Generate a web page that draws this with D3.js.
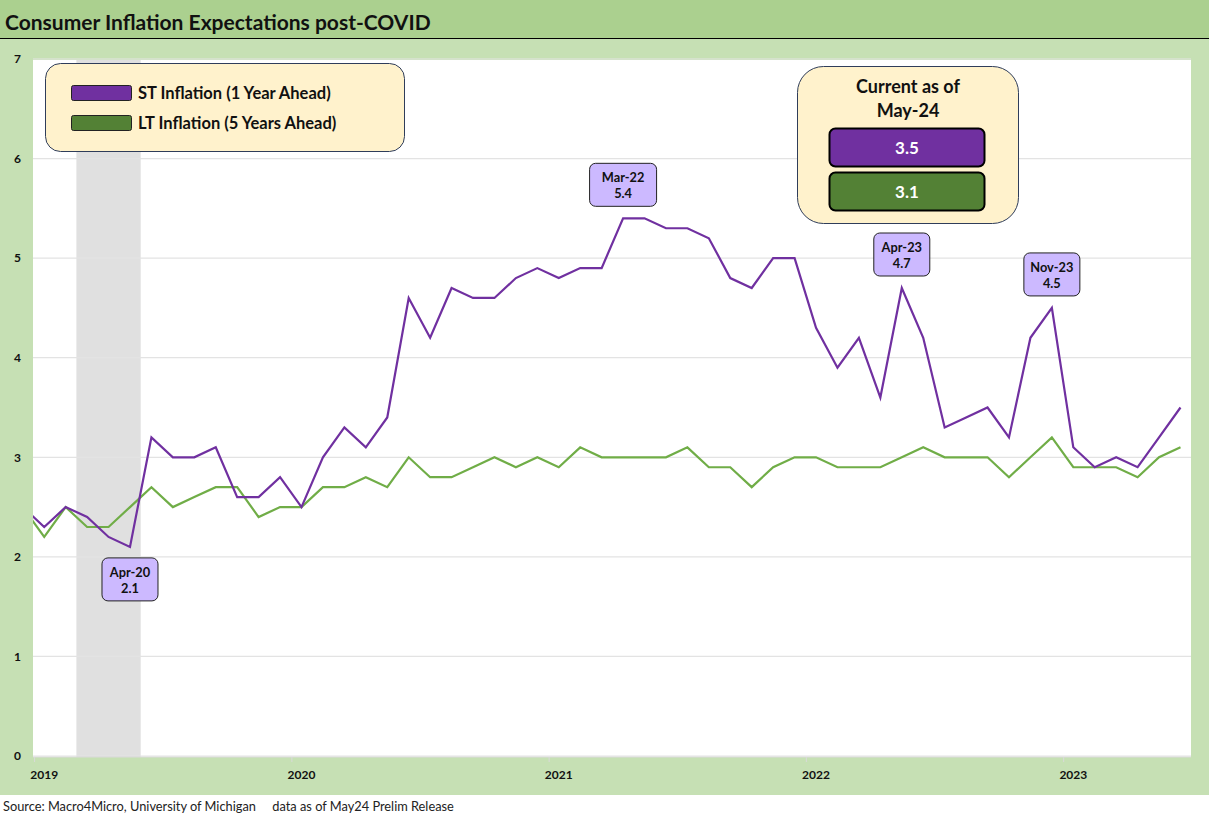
<!DOCTYPE html>
<html>
<head>
<meta charset="utf-8">
<script src="https://cdnjs.cloudflare.com/ajax/libs/d3/7.8.5/d3.min.js"></script>
<style>
body { margin: 0; padding: 0; background: #fff; }
svg { display: block; font-family: Lato, "Open Sans", sans-serif; }
</style>
</head>
<body>
<script>
var st_color = '#7030A0';
var lt_color = '#70AD47';
var box_fill = '#FFF2CC';
var callout_fill = '#CCB9FF';

// monthly, Nov-19 .. May-24
var months = ['Nov-19','Dec-19',
	'Jan-20','Feb-20','Mar-20','Apr-20','May-20','Jun-20','Jul-20','Aug-20','Sep-20','Oct-20','Nov-20','Dec-20',
	'Jan-21','Feb-21','Mar-21','Apr-21','May-21','Jun-21','Jul-21','Aug-21','Sep-21','Oct-21','Nov-21','Dec-21',
	'Jan-22','Feb-22','Mar-22','Apr-22','May-22','Jun-22','Jul-22','Aug-22','Sep-22','Oct-22','Nov-22','Dec-22',
	'Jan-23','Feb-23','Mar-23','Apr-23','May-23','Jun-23','Jul-23','Aug-23','Sep-23','Oct-23','Nov-23','Dec-23',
	'Jan-24','Feb-24','Mar-24','Apr-24','May-24'];

var st_values = [2.5, 2.3,
	2.5, 2.4, 2.2, 2.1, 3.2, 3.0, 3.0, 3.1, 2.6, 2.6, 2.8, 2.5,
	3.0, 3.3, 3.1, 3.4, 4.6, 4.2, 4.7, 4.6, 4.6, 4.8, 4.9, 4.8,
	4.9, 4.9, 5.4, 5.4, 5.3, 5.3, 5.2, 4.8, 4.7, 5.0, 5.0, 4.3,
	3.9, 4.2, 3.6, 4.7, 4.2, 3.3, 3.4, 3.5, 3.2, 4.2, 4.5, 3.1,
	2.9, 3.0, 2.9, 3.2, 3.5];

var lt_values = [2.5, 2.2,
	2.5, 2.3, 2.3, 2.5, 2.7, 2.5, 2.6, 2.7, 2.7, 2.4, 2.5, 2.5,
	2.7, 2.7, 2.8, 2.7, 3.0, 2.8, 2.8, 2.9, 3.0, 2.9, 3.0, 2.9,
	3.1, 3.0, 3.0, 3.0, 3.0, 3.1, 2.9, 2.9, 2.7, 2.9, 3.0, 3.0,
	2.9, 2.9, 2.9, 3.0, 3.1, 3.0, 3.0, 3.0, 2.8, 3.0, 3.2, 2.9,
	2.9, 2.9, 2.8, 3.0, 3.1];

var y_ticks = [0, 1, 2, 3, 4, 5, 6, 7];
var year_labels = ['2019', '2020', '2021', '2022', '2023'];
var year_label_months = ['Dec-19', 'Dec-20', 'Dec-21', 'Dec-22', 'Dec-23'];

var recession = ['Feb-20', 'Apr-20'];
var callouts = ['Apr-20', 'Mar-22', 'Apr-23', 'Nov-23'];

var legend_names = ['ST Inflation (1 Year Ahead)', 'LT Inflation (5 Years Ahead)'];
var current_label = 'May-24';

var width = 1209, height = 816;
var plot_left = 33, plot_right = 1191, plot_top = 60, plot_bottom = 757;

var svg = d3.select("body").append("svg")
	.attr("width", width)
	.attr("height", height);

// backgrounds
svg.append("rect").attr("x", 0).attr("y", 0).attr("width", width).attr("height", 795).style("fill", "#C6E0B4");
svg.append("rect").attr("x", 0).attr("y", 0).attr("width", width).attr("height", 38).style("fill", "#ABD08F");
svg.append("line").attr("x1", 0).attr("x2", width).attr("y1", 38.5).attr("y2", 38.5).style("stroke", "#000").style("stroke-width", 1.2);
svg.append("rect").attr("x", 0).attr("y", 795).attr("width", width).attr("height", 21).style("fill", "#fff");

svg.append("text")
	.attr("x", 5).attr("y", 30)
	.attr("font-size", "21px").attr("font-weight", "bold")
	.style("fill", "#111")
	.text("Consumer Inflation Expectations post-COVID");

svg.append("text")
	.attr("x", 3).attr("y", 811)
	.attr("font-size", "12.8px")
	.style("fill", "#222")
	.text("Source: Macro4Micro, University of Michigan\u00a0\u00a0\u00a0\u00a0\u00a0data as of May24 Prelim Release");

svg.append("rect")
	.attr("x", plot_left).attr("y", plot_top)
	.attr("width", plot_right - plot_left).attr("height", plot_bottom - plot_top)
	.style("fill", "#fff");

var x = d3.scaleLinear().domain([0.476, 54.49]).range([plot_left, plot_right]);
var y = d3.scaleLinear().domain([0, 7]).range([plot_bottom - 1, plot_top - 1]);

function mi(m) { return months.indexOf(m); }

// recession shading
svg.append("rect")
	.attr("x", x(mi(recession[0]) - 0.5))
	.attr("y", plot_top)
	.attr("width", x(mi(recession[1]) + 0.5) - x(mi(recession[0]) - 0.5))
	.attr("height", plot_bottom - plot_top)
	.style("fill", "#E0E0E0");

// grid
svg.selectAll(".grid")
	.data(y_ticks)
	.enter()
	.append("line")
	.attr("class", "grid")
	.attr("x1", plot_left).attr("x2", plot_right)
	.attr("y1", function(d) { return y(d); })
	.attr("y2", function(d) { return y(d); })
	.style("stroke", "#E3E3E3")
	.style("stroke-width", 1.2);

// y axis
var y_axis = svg.append("g")
	.attr("transform", "translate(" + plot_left + ",0)")
	.call(d3.axisLeft(y).tickValues(y_ticks).tickSize(0).tickPadding(12).tickFormat(d3.format("d")));
y_axis.select(".domain").remove();
y_axis.selectAll("text").attr("font-size", "12px").attr("font-weight", "bold").style("fill", "#111")
	.attr("font-family", "Lato, sans-serif");

// x axis
svg.append("line").attr("x1", plot_left).attr("x2", plot_right).attr("y1", plot_bottom).attr("y2", plot_bottom)
	.style("stroke", "#D9D9D9").style("stroke-width", 1);
svg.selectAll(".xtick")
	.data(year_label_months)
	.enter()
	.append("line")
	.attr("class", "xtick")
	.attr("x1", function(d) { return x(mi(d) - 0.45); })
	.attr("x2", function(d) { return x(mi(d) - 0.45); })
	.attr("y1", plot_bottom).attr("y2", plot_bottom + 5)
	.style("stroke", "#D9D9D9");
svg.selectAll(".xlabel")
	.data(year_labels)
	.enter()
	.append("text")
	.attr("class", "xlabel")
	.attr("text-anchor", "middle")
	.attr("x", function(d, i) { return x(mi(year_label_months[i])); })
	.attr("y", 779)
	.attr("font-size", "12px").attr("font-weight", "bold")
	.style("fill", "#111")
	.text(function(d) { return d; });

// lines
var clip = svg.append("clipPath").attr("id", "plotclip")
	.append("rect").attr("x", plot_left).attr("y", plot_top)
	.attr("width", plot_right - plot_left).attr("height", plot_bottom - plot_top);

var line = d3.line()
	.x(function(d, i) { return x(i); })
	.y(function(d) { return y(d); });

svg.append("path").datum(lt_values)
	.attr("d", line)
	.attr("clip-path", "url(#plotclip)")
	.style("fill", "none").style("stroke", lt_color).style("stroke-width", 2.2);

svg.append("path").datum(st_values)
	.attr("d", line)
	.attr("clip-path", "url(#plotclip)")
	.style("fill", "none").style("stroke", st_color).style("stroke-width", 2.2);

// callouts
var callout_w = 56, callout_h = 43;
callouts.forEach(function(m) {
	var i = mi(m);
	var v = st_values[i];
	var cx = x(i);
	var low = (m == 'Apr-20');
	var top = low ? y(v) + 11 : y(v) - 12 - callout_h;
	var w = (m == 'Mar-22') ? 67 : callout_w;
	var g = svg.append("g");
	g.append("rect")
		.attr("x", cx - w / 2).attr("y", top)
		.attr("width", w).attr("height", callout_h)
		.attr("rx", 6).attr("ry", 6)
		.style("fill", callout_fill).style("stroke", "#222").style("stroke-width", 1);
	g.append("text")
		.attr("text-anchor", "middle")
		.attr("x", cx).attr("y", top + 19)
		.attr("font-size", "12.8px").attr("font-weight", "bold")
		.style("fill", "#111")
		.text(m);
	g.append("text")
		.attr("text-anchor", "middle")
		.attr("x", cx).attr("y", top + 35)
		.attr("font-size", "12.8px").attr("font-weight", "bold")
		.style("fill", "#111")
		.text(d3.format(".1f")(v));
});

// legend box
svg.append("rect")
	.attr("x", 45.5).attr("y", 63.5).attr("width", 359).attr("height", 88)
	.attr("rx", 15).attr("ry", 15)
	.style("fill", box_fill).style("stroke", "#2F3D5A").style("stroke-width", 1);
var legend_colors = [st_color, '#538135'];
legend_names.forEach(function(name, i) {
	svg.append("rect")
		.attr("x", 71.5).attr("y", 85.5 + i * 30).attr("width", 60).attr("height", 15)
		.attr("rx", 2)
		.style("fill", legend_colors[i]).style("stroke", "#222").style("stroke-width", 1);
	svg.append("text")
		.attr("x", 138).attr("y", 98.5 + i * 30)
		.attr("font-size", "16.5px").attr("font-weight", "bold")
		.style("fill", "#111")
		.text(name);
});

// current box
var last = months.length - 1;
svg.append("rect")
	.attr("x", 797.5).attr("y", 66.5).attr("width", 221).attr("height", 157)
	.attr("rx", 26).attr("ry", 26)
	.style("fill", box_fill).style("stroke", "#2F3D5A").style("stroke-width", 1);
svg.append("text")
	.attr("text-anchor", "middle").attr("x", 908).attr("y", 93)
	.attr("font-size", "18px").attr("font-weight", "bold").style("fill", "#111")
	.text("Current as of");
svg.append("text")
	.attr("text-anchor", "middle").attr("x", 908).attr("y", 117)
	.attr("font-size", "18px").attr("font-weight", "bold").style("fill", "#111")
	.text(current_label);
[st_values[last], lt_values[last]].forEach(function(v, i) {
	svg.append("rect")
		.attr("x", 829.5).attr("y", 128.5 + i * 44).attr("width", 155).attr("height", 38)
		.attr("rx", 6).attr("ry", 6)
		.style("fill", legend_colors[i]).style("stroke", "#000").style("stroke-width", 2);
	svg.append("text")
		.attr("text-anchor", "middle").attr("x", 907).attr("y", 153.5 + i * 44)
		.attr("font-size", "17px").attr("font-weight", "bold").style("fill", "#fff")
		.text(d3.format(".1f")(v));
});
</script>
</body>
</html>
